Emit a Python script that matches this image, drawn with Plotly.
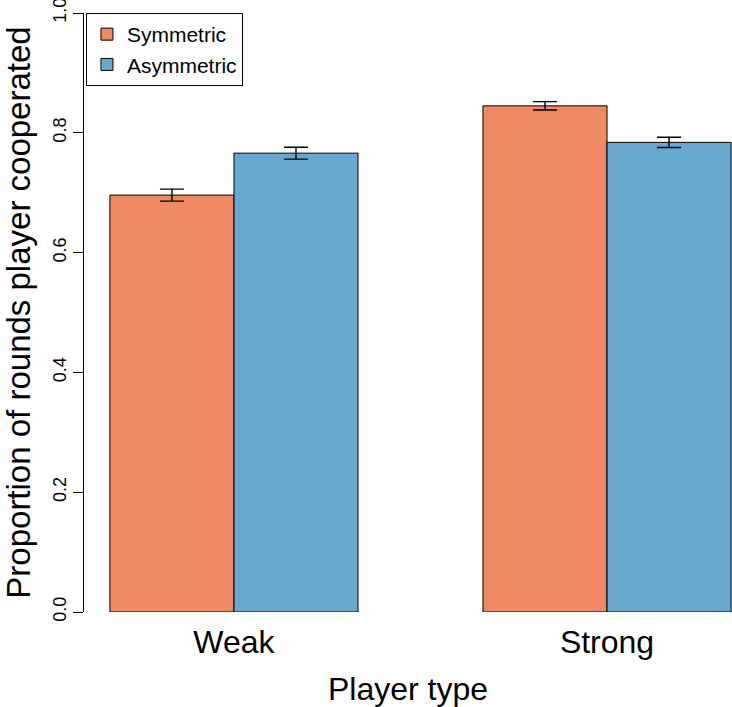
import plotly.graph_objects as go

#%% data
player_type = ['Weak', 'Strong']
symmetric = [0.696, 0.845]
symmetric_err = [0.010, 0.007]
asymmetric = [0.766, 0.784]
asymmetric_err = [0.010, 0.0085]
y_ticks = [0.0, 0.2, 0.4, 0.6, 0.8, 1.0]
y_tick_text = ['0.0', '0.2', '0.4', '0.6', '0.8', '1.0']

FONT = 'Liberation Sans, Arial, sans-serif'

#%% figure
fig = go.Figure(data=[
    go.Bar(x=player_type, y=symmetric, name='Symmetric',
           marker=dict(color='#EF8A62', line=dict(color='black', width=1)),
           error_y=dict(type='data', array=symmetric_err, color='black',
                        thickness=1.4, width=12)),
    go.Bar(x=player_type, y=asymmetric, name='Asymmetric',
           marker=dict(color='#67A9CF', line=dict(color='black', width=1)),
           error_y=dict(type='data', array=asymmetric_err, color='black',
                        thickness=1.4, width=12)),
])

fig.update_layout(
    width=732, height=707,
    margin=dict(l=84, r=0, t=13, b=95, autoexpand=False),
    plot_bgcolor='white', paper_bgcolor='white',
    barmode='group', bargap=0.335, bargroupgap=0,
    font=dict(family=FONT, color='black'),
    legend=dict(x=0.003, y=1, xanchor='left', yanchor='top',
                bordercolor='black', borderwidth=1, bgcolor='white',
                font=dict(size=21, family=FONT),
                itemwidth=30, tracegroupgap=0),
    xaxis=dict(range=[-0.402, 1.335], showline=False, showgrid=False,
               zeroline=False, ticks='', tickfont=dict(size=32),
               ticklabelstandoff=8, automargin=False,
               title=dict(text='Player type', font=dict(size=32), standoff=30)),
    yaxis=dict(range=[0, 1], tickvals=y_ticks, ticktext=y_tick_text,
               tickangle=-90, tickfont=dict(size=18), automargin=False,
               ticklabeloverflow='allow',
               showline=True, linecolor='black', linewidth=1.2,
               ticks='outside', ticklen=10, tickcolor='black', tickwidth=1.2,
               showgrid=False, zeroline=False,
               title=dict(text='Proportion of rounds player cooperated',
                          font=dict(size=33), standoff=17)),
)

# drop the browser's default 8px body margin so the figure sits at 0,0
fig.write_html('out.html', config={'displayModeBar': False},
               post_script="document.body.style.margin='0';")
